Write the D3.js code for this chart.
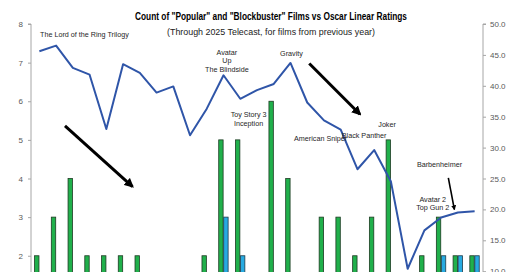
<!DOCTYPE html>
<html>
<head>
<meta charset="utf-8">
<script src="https://cdn.jsdelivr.net/npm/d3@7"></script>
<style>
  body { margin: 0; background: #fff; }
  svg { display: block; }
  text { font-family: "Liberation Sans Narrow", "Liberation Sans", "DejaVu Sans Condensed", sans-serif; font-stretch: condensed; }
  .axis text { font-size: 8px; fill: #595959; }
  .axis path, .axis line { stroke: #a6a6a6; }
  .note { font-size: 7.2px; fill: #262626; }
</style>
</head>
<body>
<svg id="chart"></svg>
<script>
// telecast years (films from the previous year)
const years = d3.range(1999, 2026);
// Oscar linear ratings, millions of viewers
const ratings = [45.6, 46.5, 42.9, 41.8, 33.0, 43.5, 42.1, 38.9, 39.9, 32.0, 36.3, 41.7, 37.9,
  39.3, 40.3, 43.7, 37.3, 34.4, 32.9, 26.5, 29.6, 24.5, 10.4, 16.6, 18.7, 19.5, 19.7];
// count of "Popular" films
const popular = [2, 3, 4, 2, 2, 2, 2, 1, 1, 1, 2, 5, 5, 1, 6, 4, 1, 3, 3, 2, 3, 5, 0, 2, 3, 2, 2];
// count of "Blockbuster" films
const blockbuster = [0, 0, 0, 0, 0, 0, 0, 0, 0, 0, 0, 3, 2, 0, 0, 0, 0, 0, 0, 0, 0, 0, 0, 0, 2, 2, 2];

// labels: [text lines, year, rating level of first baseline, anchor]
const notes = [
  [["The Lord of the Ring Trilogy"], 1999.04, 47.9, 'start'],
  [["Avatar", "Up", "The Blindside"], 2010.2, 45.0, 'middle'],
  [["Toy Story 3", "Inception"], 2011.5, 34.9, 'middle'],
  [["Gravity"], 2014.06, 44.9, 'middle'],
  [["American Sniper"], 2015.8, 31.1, 'middle'],
  [["Black Panther"], 2018.4, 31.5, 'middle'],
  [["Joker"], 2019.77, 33.3, 'middle'],
  [["Barbenheimer"], 2022.9, 26.9, 'middle'],
  [["Avatar 2", "Top Gun 2"], 2022.5, 21.2, 'middle']
];
// arrows: [year0, rating0, year1, rating1, width]
const arrows = [
  [2000.53, 33.5, 2004.56, 23.7, 3],
  [2015.12, 43.6, 2018.15, 35.4, 3],
  [2023.43, 25.1, 2023.79, 20.0, 1.6]
];

const width = 520, height = 272;
const margin = { top: 24, left: 31, right: 37 };
const bottom = 333; // plot floor sits below the visible window

const svg = d3.select('#chart').attr('width', width).attr('height', height);

const x = d3.scaleBand().domain(years).range([margin.left, width - margin.right]);
const bw = x.bandwidth();
const xPos = d3.scaleLinear()
  .domain([years[0], years[years.length - 1]])
  .range([x(years[0]) + bw / 2, x(years[years.length - 1]) + bw / 2]);
const yLeft = d3.scaleLinear().domain([0, 8]).range([bottom, margin.top]);
const yRight = d3.scaleLinear().domain([0, 50]).range([bottom, margin.top]);

svg.append('defs').append('marker')
  .attr('id', 'head')
  .attr('viewBox', '0 0 10 10')
  .attr('refX', 8).attr('refY', 5)
  .attr('markerWidth', 3.2).attr('markerHeight', 3.2)
  .attr('orient', 'auto')
  .append('path').attr('d', 'M0,0L10,5L0,10z').attr('fill', '#000');

// axes
const gl = svg.append('g').attr('class', 'axis')
  .attr('transform', `translate(${margin.left},0)`)
  .call(d3.axisLeft(yLeft).ticks(8).tickSize(3).tickPadding(5));
gl.select('.domain').attr('d', `M-3,${margin.top}H0V${bottom}`);

const gr = svg.append('g').attr('class', 'axis')
  .attr('transform', `translate(${width - margin.right},0)`)
  .call(d3.axisRight(yRight).ticks(10).tickFormat(d3.format('.1f')).tickSize(3).tickPadding(4));
gr.select('.domain').attr('d', `M3,${margin.top}H0V${bottom}`);

// bars
const barW = 4.4;
svg.selectAll('.pop').data(years).enter().append('rect')
  .attr('class', 'pop')
  .attr('x', d => x(d) + bw / 2 - barW - 0.4)
  .attr('y', (d, i) => yLeft(popular[i]))
  .attr('width', barW)
  .attr('height', (d, i) => bottom - yLeft(popular[i]))
  .attr('fill', '#20b04b')
  .attr('stroke', '#1d3b23').attr('stroke-width', 0.8);

svg.selectAll('.blk').data(years.filter((d, i) => blockbuster[i] > 0)).enter().append('rect')
  .attr('class', 'blk')
  .attr('x', d => x(d) + bw / 2 + 0.2)
  .attr('y', d => yLeft(blockbuster[years.indexOf(d)]))
  .attr('width', barW)
  .attr('height', d => bottom - yLeft(blockbuster[years.indexOf(d)]))
  .attr('fill', '#27aae1')
  .attr('stroke', '#1d3b4a').attr('stroke-width', 0.8);

// ratings line
svg.append('path')
  .datum(years)
  .attr('fill', 'none')
  .attr('stroke', '#2f55a8')
  .attr('stroke-width', 2)
  .attr('stroke-linejoin', 'round')
  .attr('d', d3.line().x(d => xPos(d)).y((d, i) => yRight(ratings[i])));

// arrows
svg.selectAll('.arrow').data(arrows).enter().append('line')
  .attr('x1', d => xPos(d[0])).attr('y1', d => yRight(d[1]))
  .attr('x2', d => xPos(d[2])).attr('y2', d => yRight(d[3]))
  .attr('stroke', '#000')
  .attr('stroke-width', d => d[4])
  .attr('marker-end', 'url(#head)');

// labels
notes.forEach(n => {
  const t = svg.append('text').attr('class', 'note')
    .attr('text-anchor', n[3])
    .attr('x', xPos(n[1])).attr('y', yRight(n[2]));
  n[0].forEach((line, k) => {
    t.append('tspan').attr('x', xPos(n[1])).attr('dy', k ? 8.3 : 0).text(line);
  });
});

// titles
svg.append('text')
  .attr('x', 271).attr('y', 20)
  .attr('text-anchor', 'middle')
  .attr('textLength', 272).attr('lengthAdjust', 'spacingAndGlyphs')
  .style('font-weight', 'bold').style('font-size', '10.5px').style('fill', '#000')
  .text('Count of "Popular" and "Blockbuster" Films vs Oscar Linear Ratings');

svg.append('text')
  .attr('x', 271).attr('y', 34.5)
  .attr('text-anchor', 'middle')
  .attr('textLength', 208).attr('lengthAdjust', 'spacingAndGlyphs')
  .style('font-size', '9.5px').style('fill', '#1a1a1a')
  .text('(Through 2025 Telecast, for films from previous year)');
</script>
</body>
</html>
